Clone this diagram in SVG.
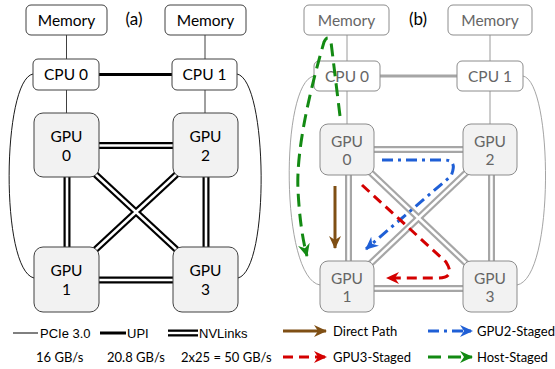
<svg xmlns="http://www.w3.org/2000/svg" width="555" height="369" viewBox="0 0 555 369">
  <style>
    text { font-family: Lato, "Open Sans", sans-serif; }
    .lbl { font-size: 15.5px; text-anchor: middle; fill: #000; }
    .lblb { font-size: 15.5px; text-anchor: middle; fill: #666; }
    .box { fill: #fff; stroke: #404040; stroke-width: 1; }
    .gpu { fill: #f2f2f2; stroke: #404040; stroke-width: 1; }
    .boxb { fill: #fff; stroke: #8c8c8c; stroke-width: 1; }
    .gpub { fill: #f2f2f2; stroke: #8c8c8c; stroke-width: 1; }
    .pcie { fill: none; stroke: #000; stroke-width: 0.9; }
    .pcieb { fill: none; stroke: #9a9a9a; stroke-width: 0.9; }
    .upi { stroke: #000; stroke-width: 3; }
    .upib { stroke: #a6a6a6; stroke-width: 3; }
    .nvo { stroke: #000; stroke-width: 7; fill: none; }
    .nvi { stroke: #fff; stroke-width: 2.6; fill: none; }
    .nvob { stroke: #a6a6a6; stroke-width: 7; fill: none; }
    .nvib { stroke: #fff; stroke-width: 2.6; fill: none; }
    .leg { font-size: 13px; fill: #000; }
    .lega { font-family: "Liberation Sans", Arial, sans-serif; font-size: 13px; fill: #000; }
    .tag { font-size: 17px; text-anchor: middle; fill: #000; }
    .direct { stroke: #7f4f14; stroke-width: 3; fill: none; }
    .g2 { stroke: #1f5fd6; stroke-width: 3; fill: none; stroke-dasharray: 11 5 3 5; }
    .g3 { stroke: #d40000; stroke-width: 3; fill: none; stroke-dasharray: 10 6; }
    .host { stroke: #138a13; stroke-width: 3; fill: none; stroke-dasharray: 13 7; }
  </style>
  <defs>
    <marker id="ah-brown" markerUnits="userSpaceOnUse" markerWidth="16" markerHeight="14" refX="12" refY="6" orient="auto">
      <path d="M0,0 L13,6 L0,12 L4,6 z" fill="#7f4f14"/>
    </marker>
    <marker id="ah-blue" markerUnits="userSpaceOnUse" markerWidth="16" markerHeight="14" refX="12" refY="6" orient="auto">
      <path d="M0,0 L13,6 L0,12 L4,6 z" fill="#1f5fd6"/>
    </marker>
    <marker id="ah-red" markerUnits="userSpaceOnUse" markerWidth="16" markerHeight="14" refX="12" refY="6" orient="auto">
      <path d="M0,0 L13,6 L0,12 L4,6 z" fill="#d40000"/>
    </marker>
    <marker id="ah-green" markerUnits="userSpaceOnUse" markerWidth="16" markerHeight="14" refX="12" refY="6" orient="auto">
      <path d="M0,0 L13,6 L0,12 L4,6 z" fill="#138a13"/>
    </marker>
  </defs>

  <!-- panel (a) links -->
  <g id="connectors-a">
    <line x1="66.5" y1="35" x2="66.5" y2="59" stroke="#404040" stroke-width="1"/>
    <line x1="205" y1="35" x2="205" y2="59" stroke="#404040" stroke-width="1"/>
    <line x1="66.5" y1="90" x2="66.5" y2="113" stroke="#404040" stroke-width="1"/>
    <line x1="205" y1="90" x2="205" y2="113" stroke="#404040" stroke-width="1"/>
    <line class="upi" x1="99" y1="74.5" x2="172" y2="74.5"/>
    <path class="pcie" d="M33,74 C2,80 0,270 34,278"/>
    <path class="pcie" d="M237,74 C268,80 270,270 238,278"/>
    <g class="nvo">
      <line x1="99" y1="145.5" x2="173" y2="145.5"/>
      <line x1="99" y1="280" x2="173" y2="280"/>
      <line x1="67" y1="177" x2="67" y2="247"/>
      <line x1="206" y1="177" x2="206" y2="247"/>
      <line x1="94" y1="173" x2="178" y2="251"/>
      <line x1="178" y1="173" x2="94" y2="251"/>
    </g>
    <g class="nvi">
      <line x1="99" y1="145.5" x2="173" y2="145.5"/>
      <line x1="99" y1="280" x2="173" y2="280"/>
      <line x1="67" y1="177" x2="67" y2="247"/>
      <line x1="206" y1="177" x2="206" y2="247"/>
      <line x1="94" y1="173" x2="178" y2="251"/>
      <line x1="178" y1="173" x2="94" y2="251"/>
    </g>
  </g>

  <!-- panel (a) nodes -->
  <g id="a-mem0"><rect class="box" x="26" y="5" width="81" height="30" rx="5"/><text class="lbl" x="66.5" y="25.5">Memory</text></g>
  <g id="a-mem1"><rect class="box" x="165" y="5" width="81" height="30" rx="5"/><text class="lbl" x="205.5" y="25.5">Memory</text></g>
  <g id="a-cpu0"><rect class="box" x="33" y="59" width="66" height="31" rx="5"/><text class="lbl" x="66" y="80">CPU 0</text></g>
  <g id="a-cpu1"><rect class="box" x="172" y="59" width="65" height="31" rx="5"/><text class="lbl" x="204.5" y="80">CPU 1</text></g>
  <g id="a-gpu0"><rect class="gpu" x="34" y="113" width="65" height="64" rx="9"/><text class="lbl" x="66.5" y="142">GPU</text><text class="lbl" x="66.5" y="161">0</text></g>
  <g id="a-gpu2"><rect class="gpu" x="173" y="113" width="65" height="64" rx="9"/><text class="lbl" x="205.5" y="142">GPU</text><text class="lbl" x="205.5" y="161">2</text></g>
  <g id="a-gpu1"><rect class="gpu" x="34" y="247" width="65" height="65" rx="9"/><text class="lbl" x="66.5" y="276">GPU</text><text class="lbl" x="66.5" y="295">1</text></g>
  <g id="a-gpu3"><rect class="gpu" x="173" y="247" width="65" height="65" rx="9"/><text class="lbl" x="205.5" y="276">GPU</text><text class="lbl" x="205.5" y="295">3</text></g>
  <text class="tag" x="134" y="25">(a)</text>

  <!-- panel (a) legend -->
  <g id="a-legend">
    <line x1="13" y1="333" x2="38" y2="333" stroke="#000" stroke-width="1"/>
    <text class="lega" x="40" y="338">PCIe 3.0</text>
    <line x1="100" y1="333" x2="126" y2="333" stroke="#000" stroke-width="3"/>
    <text class="lega" x="127" y="338">UPI</text>
    <line x1="168" y1="333" x2="198" y2="333" stroke="#000" stroke-width="7"/>
    <line x1="168" y1="333" x2="198" y2="333" stroke="#fff" stroke-width="2.4"/>
    <text class="lega" x="199" y="338">NVLinks</text>
    <text class="leg" x="36" y="362">16 GB/s</text>
    <text class="leg" x="107" y="362">20.8 GB/s</text>
    <text class="leg" x="181" y="362">2x25 = 50 GB/s</text>
  </g>

  <!-- panel (b) links -->
  <g id="connectors-b">
    <line x1="347" y1="35" x2="347" y2="61" stroke="#9a9a9a" stroke-width="1"/>
    <line x1="490" y1="35" x2="490" y2="61" stroke="#9a9a9a" stroke-width="1"/>
    <line x1="347" y1="91" x2="347" y2="124" stroke="#9a9a9a" stroke-width="1"/>
    <line x1="490" y1="91" x2="490" y2="124" stroke="#9a9a9a" stroke-width="1"/>
    <line class="upib" x1="380" y1="76" x2="457" y2="76"/>
    <path class="pcieb" d="M314,76 C280,82 280,278 320,285"/>
    <path class="pcieb" d="M523,76 C553,82 555,278 517,285"/>
    <g class="nvob">
      <line x1="374" y1="149.5" x2="463" y2="149.5"/>
      <line x1="374" y1="288.5" x2="463" y2="288.5"/>
      <line x1="348.5" y1="175" x2="348.5" y2="261"/>
      <line x1="491.5" y1="175" x2="491.5" y2="261"/>
      <line x1="369" y1="171" x2="468" y2="265"/>
      <line x1="468" y1="171" x2="369" y2="265"/>
    </g>
    <g class="nvib">
      <line x1="374" y1="149.5" x2="463" y2="149.5"/>
      <line x1="374" y1="288.5" x2="463" y2="288.5"/>
      <line x1="348.5" y1="175" x2="348.5" y2="261"/>
      <line x1="491.5" y1="175" x2="491.5" y2="261"/>
      <line x1="369" y1="171" x2="468" y2="265"/>
      <line x1="468" y1="171" x2="369" y2="265"/>
    </g>
  </g>

  <!-- panel (b) nodes -->
  <g id="b-mem0"><rect class="boxb" x="304" y="5" width="85" height="30" rx="5"/><text class="lblb" x="346.5" y="25.5">Memory</text></g>
  <g id="b-mem1"><rect class="boxb" x="448" y="5" width="84" height="30" rx="5"/><text class="lblb" x="490" y="25.5">Memory</text></g>
  <g id="b-cpu0"><rect class="boxb" x="314" y="61" width="66" height="30" rx="5"/><text class="lblb" x="347" y="81.5">CPU 0</text></g>
  <g id="b-cpu1"><rect class="boxb" x="457" y="61" width="66" height="30" rx="5"/><text class="lblb" x="490" y="81.5">CPU 1</text></g>
  <g id="b-gpu0"><rect class="gpub" x="320" y="124" width="54" height="51" rx="8"/><text class="lblb" x="347" y="147">GPU</text><text class="lblb" x="347" y="165">0</text></g>
  <g id="b-gpu2"><rect class="gpub" x="463" y="124" width="54" height="51" rx="8"/><text class="lblb" x="490" y="147">GPU</text><text class="lblb" x="490" y="165">2</text></g>
  <g id="b-gpu1"><rect class="gpub" x="320" y="261" width="54" height="51" rx="8"/><text class="lblb" x="347" y="284">GPU</text><text class="lblb" x="347" y="302">1</text></g>
  <g id="b-gpu3"><rect class="gpub" x="463" y="261" width="54" height="51" rx="8"/><text class="lblb" x="490" y="284">GPU</text><text class="lblb" x="490" y="302">3</text></g>
  <text class="tag" x="418" y="25">(b)</text>

  <!-- transfer paths GPU0 -> GPU1 -->
  <g id="paths">
    <path class="direct" d="M335,186 L335,248" marker-end="url(#ah-brown)"/>
    <path class="g2" d="M382,160 L444,160 Q458,160 451,176 L366,249" marker-end="url(#ah-blue)"/>
    <path class="g3" d="M362,185 L446,262 Q456,278 438,278 L387,278" marker-end="url(#ah-red)"/>
    <path class="host" d="M340,116 L331,42 Q328,34 324,42 C310,90 296,150 298,190 Q300,230 307,256" marker-end="url(#ah-green)"/>
  </g>

  <!-- panel (b) legend -->
  <g id="b-legend">
    <line class="direct" x1="283" y1="331" x2="326" y2="331" marker-end="url(#ah-brown)"/>
    <text class="leg" x="333" y="336" font-size="14">Direct Path</text>
    <line class="g2" x1="428" y1="331" x2="472" y2="331" stroke-dasharray="3 5 8 5" marker-end="url(#ah-blue)"/>
    <text class="leg" x="477" y="336" font-size="14">GPU2-Staged</text>
    <line class="g3" x1="283" y1="357" x2="326" y2="357" stroke-dasharray="8 6" marker-end="url(#ah-red)"/>
    <text class="leg" x="333" y="362" font-size="14">GPU3-Staged</text>
    <line class="host" x1="428" y1="357" x2="472" y2="357" stroke-dasharray="12 7" marker-end="url(#ah-green)"/>
    <text class="leg" x="477" y="362" font-size="14">Host-Staged</text>
  </g>
</svg>
